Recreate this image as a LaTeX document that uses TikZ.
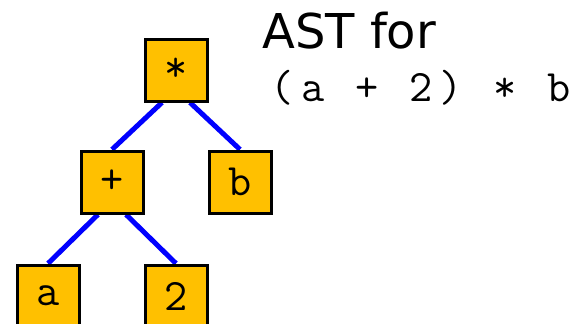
\documentclass[tikz,border=0pt]{standalone}
\usepackage{fontspec}
\setmainfont{DejaVu Sans}
\newfontfamily\astcode[LetterSpace=17]{Latin Modern Mono}
\usetikzlibrary{positioning,backgrounds}
\definecolor{ast-gold}{HTML}{FFC000}
\definecolor{ast-blue}{HTML}{0000FF}

\begin{document}
\begin{tikzpicture}[x=1pt,y=-1pt,
  astnode/.style={draw=black,line width=3pt,fill=ast-gold,minimum size=62pt,inner sep=0pt,font=\ttfamily\fontsize{45}{45}\selectfont},
  astedge/.style={ast-blue,line width=5pt}]
  \useasboundingbox (0,0) rectangle (576,324);
  % tree
  \node[astnode] (times) at (176,70) {*};
  \node[astnode] (plus) at (112,182) {+};
  \node[astnode] (b) at (240,182) {b};
  \node[astnode] (a) at (48,296) {a};
  \node[astnode] (two) at (176,296) {2};
  \begin{scope}[on background layer]
    \draw[astedge] ([xshift=-14pt]times.south) -- (plus.north);
    \draw[astedge] ([xshift=14pt]times.south) -- (b.north);
    \draw[astedge] ([xshift=-14pt]plus.south) -- (a.north);
    \draw[astedge] ([xshift=14pt]plus.south) -- (two.north);
  \end{scope}
  % caption
  \node[anchor=base west,inner sep=0pt,font=\fontsize{48}{48}\selectfont] (title) at (262,48) {AST for};
  \node[anchor=base west,inner sep=0pt,font=\astcode\fontsize{45}{45}\selectfont] (expr) at (270,101) {(a + 2) * b};
\end{tikzpicture}
\end{document}
